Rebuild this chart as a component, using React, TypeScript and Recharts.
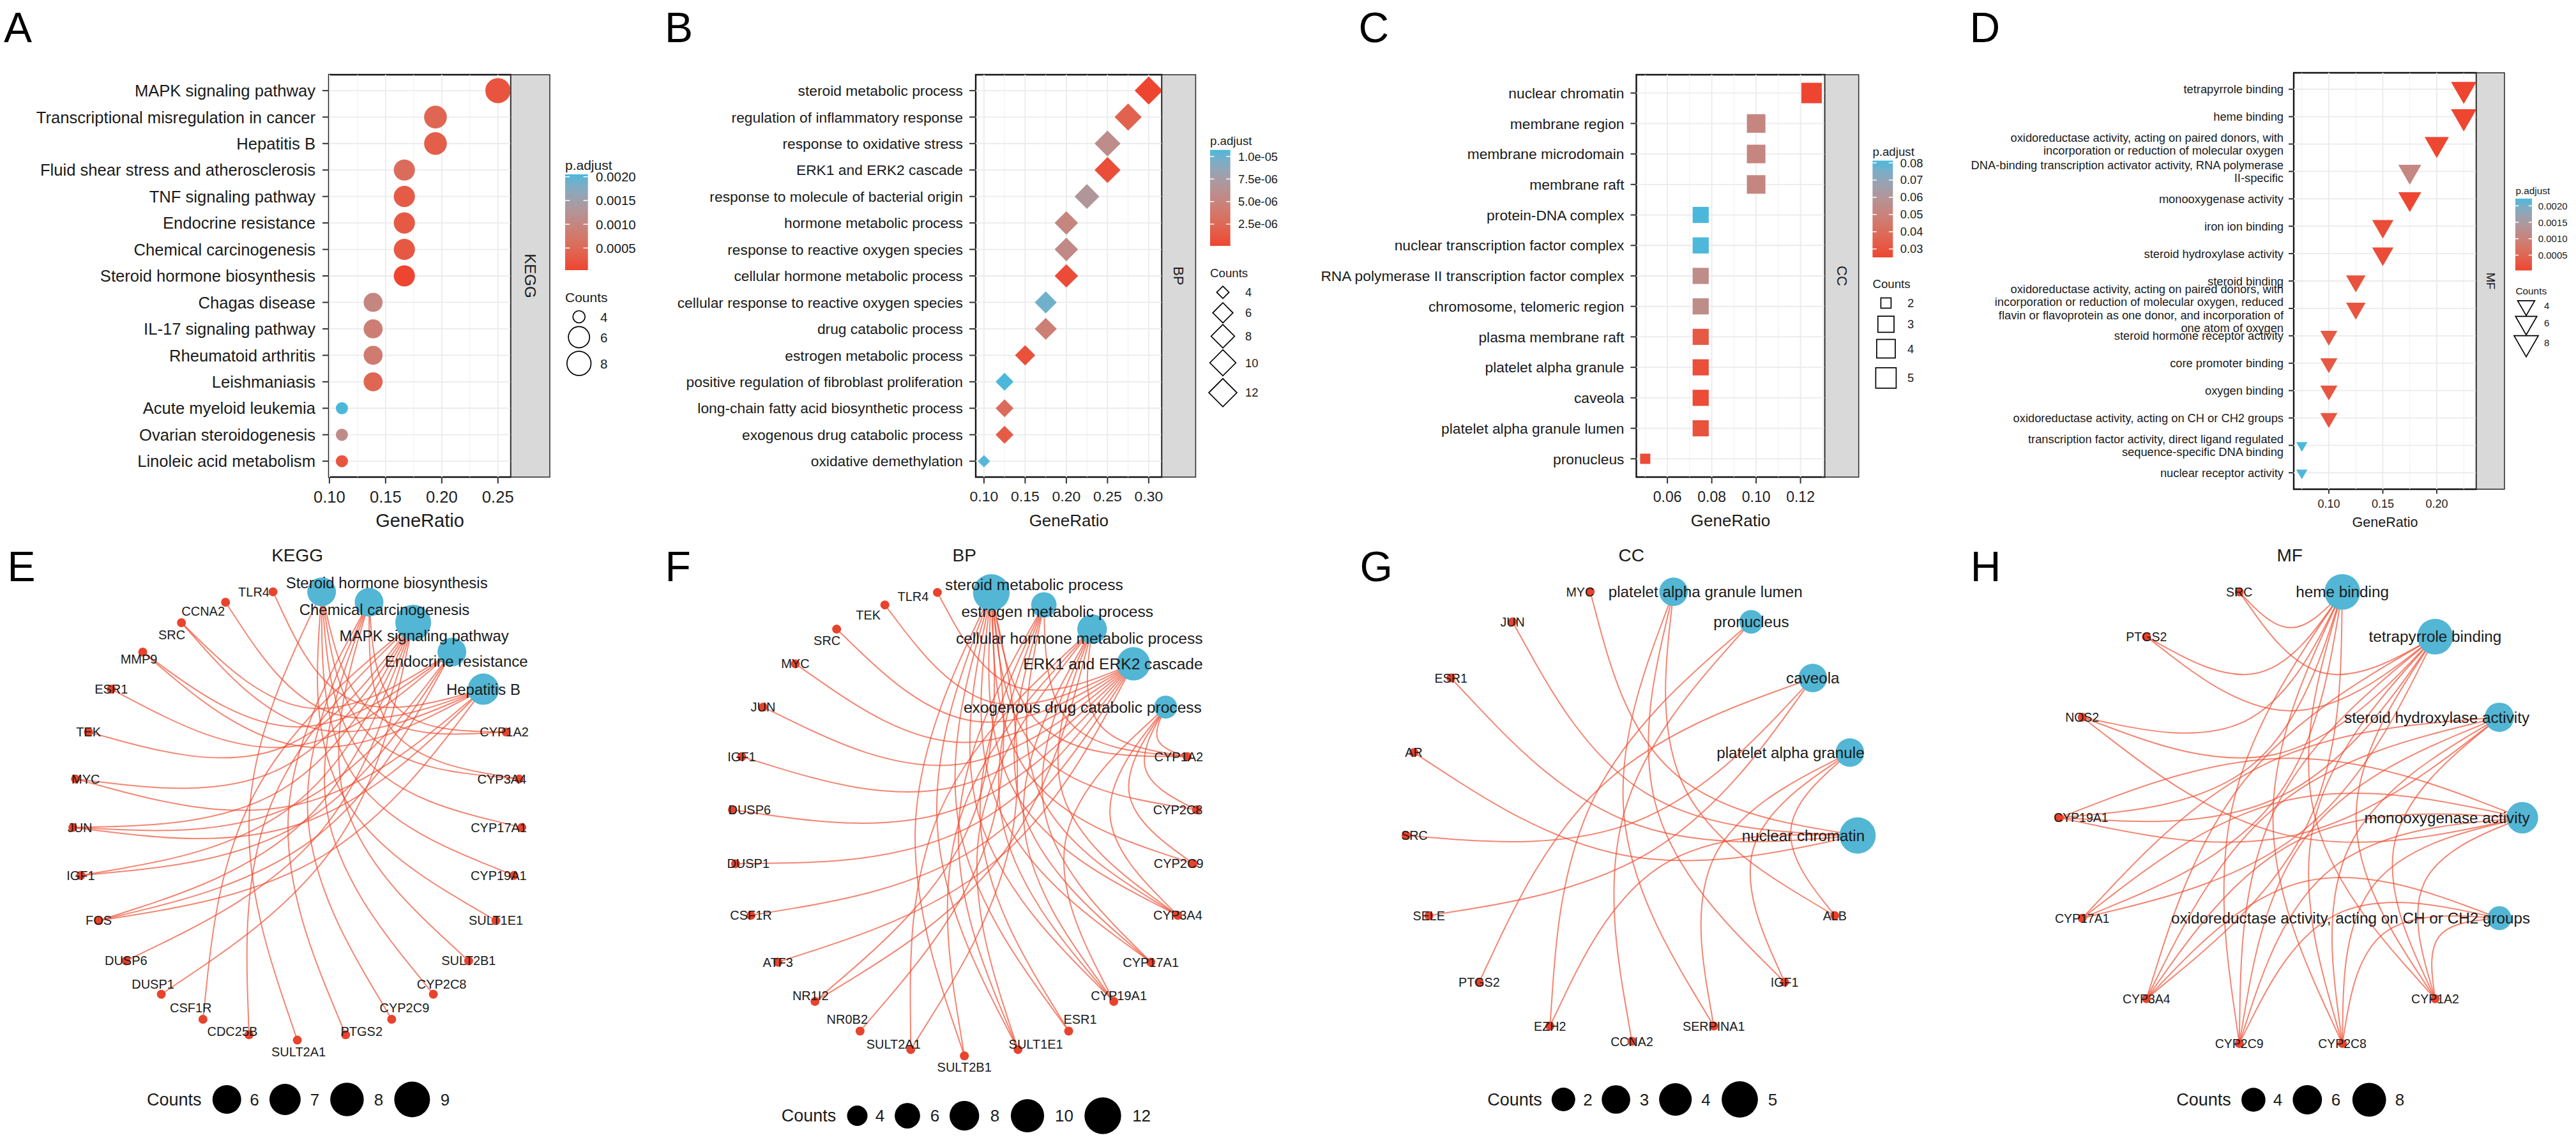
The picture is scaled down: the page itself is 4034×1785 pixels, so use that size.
import React from 'react';
import { ScatterChart, Scatter, XAxis, YAxis, ReferenceLine, ReferenceArea } from 'recharts';

const FONT = '"Liberation Sans", Arial, Helvetica, sans-serif';
const INK = '#1a1a1a';
const LOW = '#EE4530';
const HIGH = '#4BB8DB';
const TERM_BLUE = '#52B6D4';
const GENE_RED = '#E8432D';
const EDGE_RED = '#EF4A2E';

// ---------- A: KEGG dot plot
const keggTerms = [
  'MAPK signaling pathway',
  'Transcriptional misregulation in cancer',
  'Hepatitis B',
  'Fluid shear stress and atherosclerosis',
  'TNF signaling pathway',
  'Endocrine resistance',
  'Chemical carcinogenesis',
  'Steroid hormone biosynthesis',
  'Chagas disease',
  'IL-17 signaling pathway',
  'Rheumatoid arthritis',
  'Leishmaniasis',
  'Acute myeloid leukemia',
  'Ovarian steroidogenesis',
  'Linoleic acid metabolism',
];
const keggRatio = [0.25, 0.1944, 0.1944, 0.1667, 0.1667, 0.1667, 0.1667, 0.1667, 0.1389, 0.1389, 0.1389, 0.1389, 0.1111, 0.1111, 0.1111];
const keggCount = [9, 7, 7, 6, 6, 6, 6, 6, 5, 5, 5, 5, 4, 4, 4];
const keggPadj = [0.0002, 0.00045, 0.00035, 0.00055, 0.0003, 0.00028, 0.00026, 0.000034, 0.001, 0.00085, 0.0008, 0.00045, 0.00205, 0.0011, 0.0002];

// ---------- B: BP dot plot
const bpTerms = [
  'steroid metabolic process',
  'regulation of inflammatory response',
  'response to oxidative stress',
  'ERK1 and ERK2 cascade',
  'response to molecule of bacterial origin',
  'hormone metabolic process',
  'response to reactive oxygen species',
  'cellular hormone metabolic process',
  'cellular response to reactive oxygen species',
  'drug catabolic process',
  'estrogen metabolic process',
  'positive regulation of fibroblast proliferation',
  'long-chain fatty acid biosynthetic process',
  'exogenous drug catabolic process',
  'oxidative demethylation',
];
const bpRatio = [0.3, 0.275, 0.25, 0.25, 0.225, 0.2, 0.2, 0.2, 0.175, 0.175, 0.15, 0.125, 0.125, 0.125, 0.1];
const bpCount = [12, 11, 10, 10, 9, 8, 8, 8, 7, 7, 6, 5, 5, 5, 4];
const bpPadj = [9e-8, 2.0e-6, 5.8e-6, 6e-7, 6.8e-6, 5.2e-6, 5.5e-6, 5e-7, 9.8e-6, 4.5e-6, 8e-7, 1.073e-5, 2.8e-6, 1.5e-6, 1.05e-5];

// ---------- C: CC dot plot
const ccTerms = [
  'nuclear chromatin',
  'membrane region',
  'membrane microdomain',
  'membrane raft',
  'protein-DNA complex',
  'nuclear transcription factor complex',
  'RNA polymerase II transcription factor complex',
  'chromosome, telomeric region',
  'plasma membrane raft',
  'platelet alpha granule',
  'caveola',
  'platelet alpha granule lumen',
  'pronucleus',
];
const ccRatio = [0.125, 0.1, 0.1, 0.1, 0.075, 0.075, 0.075, 0.075, 0.075, 0.075, 0.075, 0.075, 0.05];
const ccCount = [5, 4, 4, 4, 3, 3, 3, 3, 3, 3, 3, 3, 2];
const ccPadj = [0.0251, 0.052, 0.052, 0.052, 0.0813, 0.081, 0.055, 0.055, 0.032, 0.028, 0.027, 0.029, 0.027];

// ---------- D: MF dot plot
const mfTerms = [
  'tetrapyrrole binding',
  'heme binding',
  'oxidoreductase activity, acting on paired donors, with\nincorporation or reduction of molecular oxygen',
  'DNA-binding transcription activator activity, RNA polymerase\nII-specific',
  'monooxygenase activity',
  'iron ion binding',
  'steroid hydroxylase activity',
  'steroid binding',
  'oxidoreductase activity, acting on paired donors, with\nincorporation or reduction of molecular oxygen, reduced\nflavin or flavoprotein as one donor, and incorporation of\none atom of oxygen',
  'steroid hormone receptor activity',
  'core promoter binding',
  'oxygen binding',
  'oxidoreductase activity, acting on CH or CH2 groups',
  'transcription factor activity, direct ligand regulated\nsequence-specific DNA binding',
  'nuclear receptor activity',
];
const mfRatio = [0.225, 0.225, 0.2, 0.175, 0.175, 0.15, 0.15, 0.125, 0.125, 0.1, 0.1, 0.1, 0.1, 0.075, 0.075];
const mfCount = [9, 9, 8, 7, 7, 6, 6, 5, 5, 4, 4, 4, 4, 3, 3];
const mfPadj = [3.3e-5, 4e-5, 5e-5, 1.1e-3, 6e-5, 1.2e-4, 1.2e-4, 2e-4, 2.2e-4, 3.2e-4, 3.0e-4, 2.5e-4, 2.5e-4, 2.22e-3, 2.2e-3];

// ---------- E-H: gene-concept networks
const keggNetTerms = ['Steroid hormone biosynthesis', 'Chemical carcinogenesis', 'MAPK signaling pathway', 'Endocrine resistance', 'Hepatitis B'];
const keggNetCounts = [6, 6, 9, 6, 7];
const keggNetGenes = ['CYP1A2', 'CYP3A4', 'CYP17A1', 'CYP19A1', 'SULT1E1', 'SULT2B1', 'CYP2C8', 'CYP2C9', 'PTGS2', 'SULT2A1', 'CDC25B', 'CSF1R', 'DUSP1', 'DUSP6', 'FOS', 'IGF1', 'JUN', 'MYC', 'TEK', 'ESR1', 'MMP9', 'SRC', 'CCNA2', 'TLR4'];
const keggNetEdges = [
  ['CYP1A2', 'CYP3A4', 'CYP17A1', 'CYP19A1', 'SULT1E1', 'SULT2A1'],
  ['CYP1A2', 'CYP3A4', 'CYP2C8', 'CYP2C9', 'PTGS2', 'SULT2B1'],
  ['FOS', 'JUN', 'MYC', 'DUSP1', 'DUSP6', 'TEK', 'IGF1', 'CDC25B', 'CSF1R'],
  ['ESR1', 'IGF1', 'SRC', 'MMP9', 'JUN', 'FOS'],
  ['TLR4', 'CCNA2', 'SRC', 'MMP9', 'MYC', 'JUN', 'FOS'],
];

const bpNetTerms = ['steroid metabolic process', 'estrogen metabolic process', 'cellular hormone metabolic process', 'ERK1 and ERK2 cascade', 'exogenous drug catabolic process'];
const bpNetCounts = [12, 6, 8, 10, 5];
const bpNetGenes = ['CYP1A2', 'CYP2C8', 'CYP2C9', 'CYP3A4', 'CYP17A1', 'CYP19A1', 'ESR1', 'SULT1E1', 'SULT2B1', 'SULT2A1', 'NR0B2', 'NR1I2', 'ATF3', 'CSF1R', 'DUSP1', 'DUSP6', 'IGF1', 'JUN', 'MYC', 'SRC', 'TEK', 'TLR4'];
const bpNetEdges = [
  ['CYP1A2', 'CYP2C8', 'CYP2C9', 'CYP3A4', 'CYP17A1', 'CYP19A1', 'ESR1', 'SULT1E1', 'SULT2B1', 'SULT2A1', 'NR0B2', 'NR1I2'],
  ['CYP1A2', 'CYP3A4', 'CYP17A1', 'CYP19A1', 'SULT1E1', 'ESR1'],
  ['CYP1A2', 'CYP3A4', 'CYP17A1', 'CYP19A1', 'SULT1E1', 'SULT2B1', 'SULT2A1', 'NR1I2'],
  ['ATF3', 'CSF1R', 'DUSP1', 'DUSP6', 'IGF1', 'JUN', 'MYC', 'SRC', 'TEK', 'TLR4'],
  ['CYP1A2', 'CYP2C8', 'CYP2C9', 'CYP3A4', 'CYP19A1'],
];

const ccNetTerms = ['platelet alpha granule lumen', 'pronucleus', 'caveola', 'platelet alpha granule', 'nuclear chromatin'];
const ccNetCounts = [3, 2, 3, 3, 5];
const ccNetGenes = ['ALB', 'IGF1', 'SERPINA1', 'CCNA2', 'EZH2', 'PTGS2', 'SELE', 'SRC', 'AR', 'ESR1', 'JUN', 'MYC'];
const ccNetEdges = [
  ['ALB', 'IGF1', 'SERPINA1'],
  ['EZH2', 'CCNA2'],
  ['SRC', 'PTGS2', 'SELE'],
  ['ALB', 'IGF1', 'SERPINA1'],
  ['ESR1', 'AR', 'JUN', 'MYC', 'EZH2'],
];

const mfNetTerms = ['heme binding', 'tetrapyrrole binding', 'steroid hydroxylase activity', 'monooxygenase activity', 'oxidoreductase activity, acting on CH or CH2 groups'];
const mfNetCounts = [9, 9, 6, 7, 4];
const mfNetGenes = ['CYP1A2', 'CYP2C8', 'CYP2C9', 'CYP3A4', 'CYP17A1', 'CYP19A1', 'NOS2', 'PTGS2', 'SRC'];
const mfNetEdges = [
  ['CYP1A2', 'CYP2C8', 'CYP2C9', 'CYP3A4', 'CYP17A1', 'CYP19A1', 'NOS2', 'PTGS2', 'SRC'],
  ['CYP1A2', 'CYP2C8', 'CYP2C9', 'CYP3A4', 'CYP17A1', 'CYP19A1', 'NOS2', 'PTGS2', 'SRC'],
  ['CYP1A2', 'CYP2C8', 'CYP2C9', 'CYP3A4', 'CYP17A1', 'CYP19A1'],
  ['CYP1A2', 'CYP2C8', 'CYP2C9', 'CYP3A4', 'CYP17A1', 'CYP19A1', 'NOS2'],
  ['CYP1A2', 'CYP2C8', 'CYP2C9', 'CYP3A4'],
];

// ---------- colour scale (ggplot-like Lab interpolation)
const hexToRgb = (h: string) => [1, 3, 5].map((i) => parseInt(h.slice(i, i + 2), 16));
const toLin = (c: number) => {
  c /= 255;
  return c <= 0.04045 ? c / 12.92 : Math.pow((c + 0.055) / 1.055, 2.4);
};
const fromLin = (c: number) => {
  const v = c <= 0.0031308 ? 12.92 * c : 1.055 * Math.pow(c, 1 / 2.4) - 0.055;
  return Math.round(Math.max(0, Math.min(1, v)) * 255);
};
const WP = [0.95047, 1, 1.08883];
const fLab = (t: number) => (t > 0.008856 ? Math.cbrt(t) : 7.787 * t + 16 / 116);
const fInv = (t: number) => (t > 0.206893 ? t * t * t : (t - 16 / 116) / 7.787);
function rgbToLab(rgb: number[]) {
  const [R, G, B] = rgb.map(toLin);
  const X = (0.4124 * R + 0.3576 * G + 0.1805 * B) / WP[0];
  const Y = (0.2126 * R + 0.7152 * G + 0.0722 * B) / WP[1];
  const Z = (0.0193 * R + 0.1192 * G + 0.9505 * B) / WP[2];
  const fx = fLab(X), fy = fLab(Y), fz = fLab(Z);
  return [116 * fy - 16, 500 * (fx - fy), 200 * (fy - fz)];
}
function labToRgb([L, a, b]: number[]) {
  const fy = (L + 16) / 116;
  const X = fInv(fy + a / 500) * WP[0];
  const Y = fInv(fy) * WP[1];
  const Z = fInv(fy - b / 200) * WP[2];
  const R = 3.2406 * X - 1.5372 * Y - 0.4986 * Z;
  const G = -0.9689 * X + 1.8758 * Y + 0.0415 * Z;
  const B = 0.0557 * X - 0.204 * Y + 1.057 * Z;
  return `rgb(${fromLin(R)},${fromLin(G)},${fromLin(B)})`;
}
const LOW_LAB = rgbToLab(hexToRgb(LOW));
const HIGH_LAB = rgbToLab(hexToRgb(HIGH));
const colorAt = (t: number) => labToRgb(LOW_LAB.map((v, i) => v + (HIGH_LAB[i] - v) * Math.max(0, Math.min(1, t))));
const padjColor = (p: number, d: number[]) => colorAt((p - d[0]) / (d[1] - d[0]));
const extent = (a: number[]) => [Math.min(...a), Math.max(...a)];

// ---------- marker sizes
const sizeA = (c: number) => 9.5 + 10.2 * Math.pow((c - 4) / 5, 0.4);
const sizeB = (c: number) => 9.6 + 12.4 * Math.sqrt((c - 4) / 8);
const sizeC = (c: number) => 8 + 8 * Math.sqrt((c - 2) / 3);
const sizeD = (c: number) => 17.7 + 22.3 * Math.sqrt((c - 3) / 6);
const areaSize = (lo: number, hi: number, rLo: number, rHi: number) => (c: number) =>
  rLo + ((rHi - rLo) * (Math.sqrt(c) - Math.sqrt(lo))) / (Math.sqrt(hi) - Math.sqrt(lo));

type Marker = 'circle' | 'diamond' | 'square' | 'triangle';

function markerEl(kind: Marker, cx: number, cy: number, s: number, fill: string, stroke?: string) {
  const common = { fill, stroke: stroke || 'none', strokeWidth: stroke ? 1.7 : 0 };
  if (kind === 'circle') return <circle cx={cx} cy={cy} r={s} {...common} />;
  if (kind === 'diamond')
    return <polygon points={`${cx},${cy - s} ${cx + s},${cy} ${cx},${cy + s} ${cx - s},${cy}`} {...common} />;
  if (kind === 'square') return <rect x={cx - s} y={cy - s} width={2 * s} height={2 * s} {...common} />;
  const h = s * 0.866;
  return <polygon points={`${cx - s / 2},${cy - h / 3} ${cx + s / 2},${cy - h / 3} ${cx},${cy + (2 * h) / 3}`} {...common} />;
}

type DotCfg = {
  terms: string[];
  ratio: number[];
  count: number[];
  padj: number[];
  marker: Marker;
  size: (c: number) => number;
  box: { x0: number; x1: number; y0: number; y1: number };
  frameLeft: number;
  frameWidth: number;
  xDomain: [number, number];
  xTicks: number[];
  xMinor: number[];
  labelFs: number;
  lineH: number;
  tickFs: number;
  ySize: number;
  yMargin: number;
  xSize: number;
  xMargin: number;
};

const dotPanels: DotCfg[] = [
  {
    terms: keggTerms, ratio: keggRatio, count: keggCount, padj: keggPadj, marker: 'circle', size: sizeA,
    box: { x0: 515, x1: 800, y0: 117, y1: 747 }, frameLeft: 0, frameWidth: 840,
    xDomain: [0.0995, 0.2615], xTicks: [0.1, 0.15, 0.2, 0.25], xMinor: [0.125, 0.175, 0.225],
    labelFs: 25.6, lineH: 28, tickFs: 25.6, ySize: 10, yMargin: 11, xSize: 10, xMargin: 12,
  },
  {
    terms: bpTerms, ratio: bpRatio, count: bpCount, padj: bpPadj, marker: 'diamond', size: sizeB,
    box: { x0: 1528, x1: 1819.5, y0: 117, y1: 747 }, frameLeft: 1000, frameWidth: 860,
    xDomain: [0.09, 0.316], xTicks: [0.1, 0.15, 0.2, 0.25, 0.3], xMinor: [0.125, 0.175, 0.225, 0.275],
    labelFs: 22.8, lineH: 25, tickFs: 22.9, ySize: 10, yMargin: 10, xSize: 10, xMargin: 12,
  },
  {
    terms: ccTerms, ratio: ccRatio, count: ccCount, padj: ccPadj, marker: 'square', size: sizeC,
    box: { x0: 2562.5, x1: 2857.8, y0: 117, y1: 747 }, frameLeft: 2000, frameWidth: 900,
    xDomain: [0.046, 0.131], xTicks: [0.06, 0.08, 0.1, 0.12], xMinor: [0.05, 0.07, 0.09, 0.11, 0.13],
    labelFs: 22.8, lineH: 25, tickFs: 23, ySize: 9, yMargin: 10, xSize: 10, xMargin: 12,
  },
  {
    terms: mfTerms, ratio: mfRatio, count: mfCount, padj: mfPadj, marker: 'triangle', size: sizeD,
    box: { x0: 3592, x1: 3878, y0: 114, y1: 766 }, frameLeft: 3000, frameWidth: 920,
    xDomain: [0.0675, 0.2367], xTicks: [0.1, 0.15, 0.2], xMinor: [0.075, 0.125, 0.175, 0.225],
    labelFs: 18.3, lineH: 20.4, tickFs: 18, ySize: 8, yMargin: 8, xSize: 7, xMargin: 9.5,
  },
];

function DotPanel({ cfg }: { cfg: DotCfg }) {
  const n = cfg.terms.length;
  const cDomain = extent(cfg.padj);
  const rows = cfg.terms.map((t, i) => ({ x: cfg.ratio[i], y: n - i, count: cfg.count[i], padj: cfg.padj[i] }));
  const xH = 60;
  const height = cfg.box.y1 + xH + 10;
  const width = cfg.frameWidth;
  const margin = {
    top: cfg.box.y0,
    left: 0,
    right: cfg.frameLeft + width - cfg.box.x1,
    bottom: height - cfg.box.y1 - xH,
  };
  const yTicks = rows.map((r) => r.y);
  const yTick = (p: any) => {
    const lines = cfg.terms[n - p.payload.value].split('\n');
    const y0 = p.y + cfg.labelFs * 0.36 - ((lines.length - 1) * cfg.lineH) / 2;
    return (
      <text x={p.x} y={y0} textAnchor="end" fontSize={cfg.labelFs} fontFamily={FONT} fill={INK}>
        {lines.map((l, i) => (
          <tspan key={i} x={p.x} dy={i === 0 ? 0 : cfg.lineH}>
            {l}
          </tspan>
        ))}
      </text>
    );
  };
  const xTick = (p: any) => (
    <text x={p.x} y={p.y + cfg.tickFs * 0.72} textAnchor="middle" fontSize={cfg.tickFs} fontFamily={FONT} fill="#222">
      {Number(p.payload.value).toFixed(2)}
    </text>
  );
  const shape = (p: any) =>
    markerEl(cfg.marker, p.cx, p.cy, cfg.size(p.payload.count), padjColor(p.payload.padj, cDomain));
  return (
    <div style={{ position: 'absolute', left: cfg.frameLeft, top: 0, width, height }}>
      <ScatterChart width={width} height={height} margin={margin}>
        <XAxis
          type="number" dataKey="x" domain={cfg.xDomain} ticks={cfg.xTicks} allowDataOverflow interval={0}
          axisLine={false} tickLine={{ stroke: '#333', strokeWidth: 2 }} tickSize={cfg.xSize} tickMargin={cfg.xMargin}
          height={xH} tick={xTick}
        />
        <YAxis
          type="number" dataKey="y" domain={[0.4, n + 0.6]} ticks={yTicks} allowDataOverflow interval={0}
          axisLine={false} tickLine={{ stroke: '#333', strokeWidth: 2 }} tickSize={cfg.ySize} tickMargin={cfg.yMargin}
          width={cfg.box.x0 - cfg.frameLeft} tick={yTick}
        />
        {cfg.xMinor.map((v) => (
          <ReferenceLine key={'m' + v} x={v} stroke="#EFEFEF" strokeWidth={1} />
        ))}
        {cfg.xTicks.map((v) => (
          <ReferenceLine key={'M' + v} x={v} stroke="#EBEBEB" strokeWidth={1.8} />
        ))}
        {yTicks.map((v) => (
          <ReferenceLine key={'h' + v} y={v} stroke="#EBEBEB" strokeWidth={1.8} />
        ))}
        <Scatter data={rows} shape={shape} isAnimationActive={false} />
        <ReferenceArea
          x1={cfg.xDomain[0]} x2={cfg.xDomain[1]} y1={0.4} y2={n + 0.6}
          fill="none" fillOpacity={0} stroke="#111" strokeWidth={2.4} ifOverflow="visible"
        />
      </ScatterChart>
    </div>
  );
}

// ---------- network panels
type NetCfg = {
  terms: string[];
  counts: number[];
  genes: string[];
  edges: string[][];
  cx: number;
  cy: number;
  R: number;
  rNode: (c: number) => number;
  nudge: Record<string, [number, number]>;
  termFs: number;
  geneFs: number;
};

const netPanels: NetCfg[] = [
  {
    terms: keggNetTerms, counts: keggNetCounts, genes: keggNetGenes, edges: keggNetEdges,
    cx: 466, cy: 1277, R: 352, rNode: areaSize(6, 9, 22.5, 28), termFs: 24, geneFs: 20,
    nudge: {
      'Steroid hormone biosynthesis': [102, -14], 'Chemical carcinogenesis': [24, 11],
      'MAPK signaling pathway': [17, 21], 'Endocrine resistance': [7, 14],
      CYP1A2: [-3, 0], CYP3A4: [-27, 0], CYP17A1: [-36, 0], CYP19A1: [-24, 0],
      CYP2C8: [13, -16], CYP2C9: [20, -18], PTGS2: [25, -5], SULT2A1: [2, 18], CDC25B: [-26, -5],
      CSF1R: [-19, -18], DUSP1: [-13, -16], JUN: [11, 0], MYC: [16, 0], MMP9: [-6, 11],
      SRC: [-15, 19], CCNA2: [-35, 14], TLR4: [-30, 0],
    },
  },
  {
    terms: bpNetTerms, counts: bpNetCounts, genes: bpNetGenes, edges: bpNetEdges,
    cx: 1510, cy: 1289, R: 364, rNode: areaSize(4, 12, 16, 28.7), termFs: 24.6, geneFs: 20,
    nudge: {
      'steroid metabolic process': [67, -12], 'estrogen metabolic process': [21, 10],
      'cellular hormone metabolic process': [-20, 14], 'ERK1 and ERK2 cascade': [-32, 0],
      'exogenous drug catabolic process': [-130, 0],
      TLR4: [-38, 6], TEK: [-26, 16], SRC: [-15, 18], DUSP6: [27, 0], DUSP1: [20, 0],
      NR1I2: [-7, -9], NR0B2: [-20, -18], SULT2A1: [-27, -8], SULT2B1: [0, 18], SULT1E1: [28, -8],
      ESR1: [18, -18], CYP19A1: [8, -9], CYP2C9: [-23, 0], CYP2C8: [-29, 0], CYP1A2: [-13, 0],
    },
  },
  {
    terms: ccNetTerms, counts: ccNetCounts, genes: ccNetGenes, edges: ccNetEdges,
    cx: 2555, cy: 1275, R: 355, rNode: areaSize(2, 5, 18.5, 28.4), termFs: 24.2, geneFs: 19.7,
    nudge: {
      'platelet alpha granule lumen': [50, 0], 'platelet alpha granule': [-93, 0], 'nuclear chromatin': [-85, 0],
      MYC: [-16, 0], SRC: [13, 0],
    },
  },
  {
    terms: mfNetTerms, counts: mfNetCounts, genes: mfNetGenes, edges: mfNetEdges,
    cx: 3587, cy: 1280.5, R: 362.6, rNode: areaSize(4, 8, 18.8, 26.4), termFs: 24.3, geneFs: 19.5,
    nudge: {
      'steroid hydroxylase activity': [-98, 0], 'monooxygenase activity': [-118, 0],
      'oxidoreductase activity, acting on CH or CH2 groups': [-233, 0], CYP19A1: [34, 0],
    },
  },
];

// arc bending toward the circle centre, like ggraph's circular edge arcs
function arcPoints(i: number, j: number, n: number, pos: number[][]) {
  const [x1, y1] = pos[i];
  const [x2, y2] = pos[j];
  const diff = Math.abs(i - j);
  const d = Math.min(diff, n - diff);
  const rho = 1 - (0.8 * Math.PI * d) / n;
  let ux = x1 + x2;
  let uy = y1 + y2;
  if (Math.hypot(ux, uy) < 1e-6) {
    ux = -(y2 - y1);
    uy = x2 - x1;
  }
  const L = Math.hypot(ux, uy);
  ux /= L;
  uy /= L;
  const mx = (x1 + x2) / 2;
  const my = (y1 + y2) / 2;
  return [
    { x: x1, y: y1 },
    { x: (3 * rho * ux - mx) / 2, y: (3 * rho * uy - my) / 2 },
    { x: x2, y: y2 },
  ];
}

const noShape = () => <g />;

function NetPanel({ cfg }: { cfg: NetCfg }) {
  const names = [...cfg.terms, ...cfg.genes];
  const n = names.length;
  const nt = cfg.terms.length;
  const pos = names.map((_, i) => {
    const a = ((90 - ((i + 0.5) * 360) / n) * Math.PI) / 180;
    return [Math.cos(a), Math.sin(a)];
  });
  const nodes = names.map((name, i) => ({ x: pos[i][0], y: pos[i][1], name, term: i < nt, count: i < nt ? cfg.counts[i] : 0 }));
  const arcs: { x: number; y: number }[][] = [];
  cfg.edges.forEach((gs, ti) => gs.forEach((g) => arcs.push(arcPoints(ti, names.indexOf(g), n, pos))));
  const S = 1.3;
  const size = 2 * S * cfg.R;
  const geneShape = (p: any) => <circle cx={p.cx} cy={p.cy} r={7} fill={GENE_RED} />;
  const termShape = (p: any) => <circle cx={p.cx} cy={p.cy} r={cfg.rNode(p.payload.count)} fill={TERM_BLUE} />;
  const labelShape = (p: any) => {
    const d = p.payload;
    const [dx, dy] = cfg.nudge[d.name] || [0, 0];
    return (
      <text
        x={p.cx + dx} y={p.cy + dy} textAnchor="middle" dominantBaseline="central"
        fontSize={d.term ? cfg.termFs : cfg.geneFs} fontFamily={FONT} fill={INK}
      >
        {d.name}
      </text>
    );
  };
  return (
    <div style={{ position: 'absolute', left: cfg.cx - S * cfg.R, top: cfg.cy - S * cfg.R, width: size, height: size }}>
      <ScatterChart width={size} height={size} margin={{ top: 0, right: 0, bottom: 0, left: 0 }}>
        <XAxis type="number" dataKey="x" domain={[-S, S]} allowDataOverflow hide height={0} />
        <YAxis type="number" dataKey="y" domain={[-S, S]} allowDataOverflow hide width={0} />
        {arcs.map((pts, k) => (
          <Scatter
            key={'e' + k} data={pts} lineType="joint" lineJointType="basis"
            line={{ stroke: EDGE_RED, strokeWidth: 2, strokeOpacity: 0.68 }}
            shape={noShape} isAnimationActive={false}
          />
        ))}
        <Scatter data={nodes.filter((d) => !d.term)} shape={geneShape} isAnimationActive={false} />
        <Scatter data={nodes.filter((d) => d.term)} shape={termShape} isAnimationActive={false} />
        <Scatter data={nodes} shape={labelShape} isAnimationActive={false} />
      </ScatterChart>
    </div>
  );
}

// ---------- overlay: letters, strips, axis titles, legends
type TopLegend = {
  id: string; padj: number[]; titleX: number; titleY: number; titleFs: number;
  barX: number; barY: number; barW: number; barH: number; ticks: number[]; fmt: (v: number) => string;
  labelX: number; labelFs: number; countsY: number; keyX: number; keyYs: number[]; keyCounts: number[];
  keyLabelX: number; marker: Marker; size: (c: number) => number;
};

const sci = (v: number) => v.toExponential(1).replace(/e-(\d)$/, 'e-0$1');

const topLegends: TopLegend[] = [
  {
    id: 'gA', padj: keggPadj, titleX: 885, titleY: 258, titleFs: 21, barX: 885, barY: 273, barW: 35.7, barH: 150,
    ticks: [0.0005, 0.001, 0.0015, 0.002], fmt: (v) => v.toFixed(4), labelX: 933, labelFs: 20.5,
    countsY: 465, keyX: 906.7, keyYs: [496, 528, 569], keyCounts: [4, 6, 8], keyLabelX: 940, marker: 'circle', size: sizeA,
  },
  {
    id: 'gB', padj: bpPadj, titleX: 1895, titleY: 220, titleFs: 18.7, barX: 1895, barY: 234.7, barW: 31.7, barH: 150.3,
    ticks: [2.5e-6, 5e-6, 7.5e-6, 1e-5], fmt: sci, labelX: 1939, labelFs: 18.3,
    countsY: 427.6, keyX: 1915, keyYs: [457.7, 489.8, 526.5, 568, 614.8], keyCounts: [4, 6, 8, 10, 12], keyLabelX: 1950,
    marker: 'diamond', size: sizeB,
  },
  {
    id: 'gC', padj: ccPadj, titleX: 2932.4, titleY: 237, titleFs: 18.7, barX: 2932.4, barY: 251.5, barW: 31.9, barH: 151.5,
    ticks: [0.03, 0.04, 0.05, 0.06, 0.07, 0.08], fmt: (v) => v.toFixed(2), labelX: 2975.8, labelFs: 18.3,
    countsY: 444, keyX: 2953.4, keyYs: [474.5, 507.7, 546, 591.8], keyCounts: [2, 3, 4, 5], keyLabelX: 2987,
    marker: 'square', size: sizeC,
  },
  {
    id: 'gD', padj: mfPadj, titleX: 3939.4, titleY: 298, titleFs: 15.4, barX: 3939, barY: 311, barW: 26, barH: 112.5,
    ticks: [0.0005, 0.001, 0.0015, 0.002], fmt: (v) => v.toFixed(4), labelX: 3974.7, labelFs: 15,
    countsY: 455.6, keyX: 3956, keyYs: [478.6, 505, 536.7], keyCounts: [4, 6, 8], keyLabelX: 3984,
    marker: 'triangle', size: sizeD,
  },
];

const strips = [
  { x0: 800, x1: 861, y0: 117, y1: 747, text: 'KEGG', fs: 24 },
  { x0: 1819.5, x1: 1872.4, y0: 117, y1: 747, text: 'BP', fs: 22 },
  { x0: 2857.8, x1: 2910.7, y0: 117, y1: 747, text: 'CC', fs: 22 },
  { x0: 3878, x1: 3922, y0: 114, y1: 766, text: 'MF', fs: 18.5 },
];

const axisTitles = [
  { x: 657.5, y: 815, fs: 29 },
  { x: 1673.8, y: 815, fs: 26 },
  { x: 2710, y: 815, fs: 26 },
  { x: 3735, y: 818, fs: 21.5 },
];

const letters = [
  { t: 'A', x: 6, y: 66 }, { t: 'B', x: 1041, y: 66 }, { t: 'C', x: 2127.5, y: 66 }, { t: 'D', x: 3084.4, y: 66 },
  { t: 'E', x: 11.5, y: 910 }, { t: 'F', x: 1041.5, y: 910 }, { t: 'G', x: 2129.5, y: 910 }, { t: 'H', x: 3085.7, y: 910 },
];

const netTitles = [
  { t: 'KEGG', x: 465.6 }, { t: 'BP', x: 1510.2 }, { t: 'CC', x: 2554.8 }, { t: 'MF', x: 3585.6 },
];

const netLegends = [
  { y: 1721.5, titleX: 272.7, counts: [6, 7, 8, 9], cx: [355.2, 446.4, 543.4, 645.4], lx: [398.6, 493, 593, 697], r: netPanels[0].rNode },
  { y: 1747, titleX: 1266.6, counts: [4, 6, 8, 10, 12], cx: [1342.5, 1421, 1510.2, 1609, 1727], lx: [1378, 1464, 1558, 1666.5, 1787.6], r: netPanels[1].rNode },
  { y: 1721.5, titleX: 2372, counts: [2, 3, 4, 5], cx: [2448.3, 2530.6, 2623.7, 2724.5], lx: [2486.6, 2575, 2671.6, 2776], r: netPanels[2].rNode },
  { y: 1722, titleX: 3451, counts: [4, 6, 8], cx: [3528.9, 3613.3, 3710.2], lx: [3567, 3658, 3758], r: netPanels[3].rNode },
];

function Overlay() {
  return (
    <svg width={4034} height={1785} style={{ position: 'absolute', left: 0, top: 0, pointerEvents: 'none' }} fontFamily={FONT}>
      <defs>
        {topLegends.map((lg) => (
          <linearGradient key={lg.id} id={lg.id} x1="0" y1="1" x2="0" y2="0">
            {Array.from({ length: 11 }, (_, k) => (
              <stop key={k} offset={k / 10} stopColor={colorAt(k / 10)} />
            ))}
          </linearGradient>
        ))}
      </defs>
      {letters.map((l) => (
        <text key={l.t} x={l.x} y={l.y} fontSize={66} fill="#000">
          {l.t}
        </text>
      ))}
      {strips.map((s) => (
        <g key={s.text}>
          <rect x={s.x0} y={s.y0} width={s.x1 - s.x0} height={s.y1 - s.y0} fill="#D9D9D9" stroke="#333" strokeWidth={1.6} />
          <text
            x={(s.x0 + s.x1) / 2} y={(s.y0 + s.y1) / 2} fontSize={s.fs} fill={INK} textAnchor="middle" dominantBaseline="central"
            transform={`rotate(90 ${(s.x0 + s.x1) / 2} ${(s.y0 + s.y1) / 2})`}
          >
            {s.text}
          </text>
        </g>
      ))}
      {axisTitles.map((a, k) => (
        <text key={k} x={a.x} y={a.y} fontSize={a.fs} fill={INK} textAnchor="middle" dominantBaseline="central">
          GeneRatio
        </text>
      ))}
      {topLegends.map((lg) => {
        const [lo, hi] = extent(lg.padj);
        const yOf = (v: number) => lg.barY + lg.barH - ((v - lo) / (hi - lo)) * lg.barH;
        return (
          <g key={lg.id}>
            <text x={lg.titleX} y={lg.titleY} fontSize={lg.titleFs} fill={INK} dominantBaseline="central">
              p.adjust
            </text>
            <rect x={lg.barX} y={lg.barY} width={lg.barW} height={lg.barH} fill={`url(#${lg.id})`} />
            {lg.ticks.map((v) => (
              <g key={v}>
                <line x1={lg.barX} x2={lg.barX + lg.barW * 0.2} y1={yOf(v)} y2={yOf(v)} stroke="#fff" strokeWidth={1.5} />
                <line x1={lg.barX + lg.barW * 0.8} x2={lg.barX + lg.barW} y1={yOf(v)} y2={yOf(v)} stroke="#fff" strokeWidth={1.5} />
                <text x={lg.labelX} y={yOf(v)} fontSize={lg.labelFs} fill={INK} dominantBaseline="central">
                  {lg.fmt(v)}
                </text>
              </g>
            ))}
            <text x={lg.titleX} y={lg.countsY} fontSize={lg.titleFs} fill={INK} dominantBaseline="central">
              Counts
            </text>
            {lg.keyCounts.map((c, k) => (
              <g key={c}>
                {markerEl(lg.marker, lg.keyX, lg.keyYs[k], lg.size(c), 'none', '#000')}
                <text x={lg.keyLabelX} y={lg.keyYs[k]} fontSize={lg.labelFs} fill={INK} dominantBaseline="central">
                  {c}
                </text>
              </g>
            ))}
          </g>
        );
      })}
      {netTitles.map((t) => (
        <text key={t.t} x={t.x} y={869} fontSize={28} fill={INK} textAnchor="middle" dominantBaseline="central">
          {t.t}
        </text>
      ))}
      {netLegends.map((lg, k) => (
        <g key={k}>
          <text x={lg.titleX} y={lg.y} fontSize={27} fill={INK} textAnchor="middle" dominantBaseline="central">
            Counts
          </text>
          {lg.counts.map((c, i) => (
            <g key={c}>
              <circle cx={lg.cx[i]} cy={lg.y} r={lg.r(c)} fill="#000" />
              <text x={lg.lx[i]} y={lg.y} fontSize={26} fill={INK} textAnchor="middle" dominantBaseline="central">
                {c}
              </text>
            </g>
          ))}
        </g>
      ))}
    </svg>
  );
}

export default function App() {
  return (
    <div
      style={{
        position: 'absolute', left: 0, top: 0, width: 4034, height: 1785, overflow: 'hidden',
        background: '#fff', fontFamily: FONT,
      }}
    >
      {dotPanels.map((cfg, k) => (
        <DotPanel key={k} cfg={cfg} />
      ))}
      {netPanels.map((cfg, k) => (
        <NetPanel key={k} cfg={cfg} />
      ))}
      <Overlay />
    </div>
  );
}
